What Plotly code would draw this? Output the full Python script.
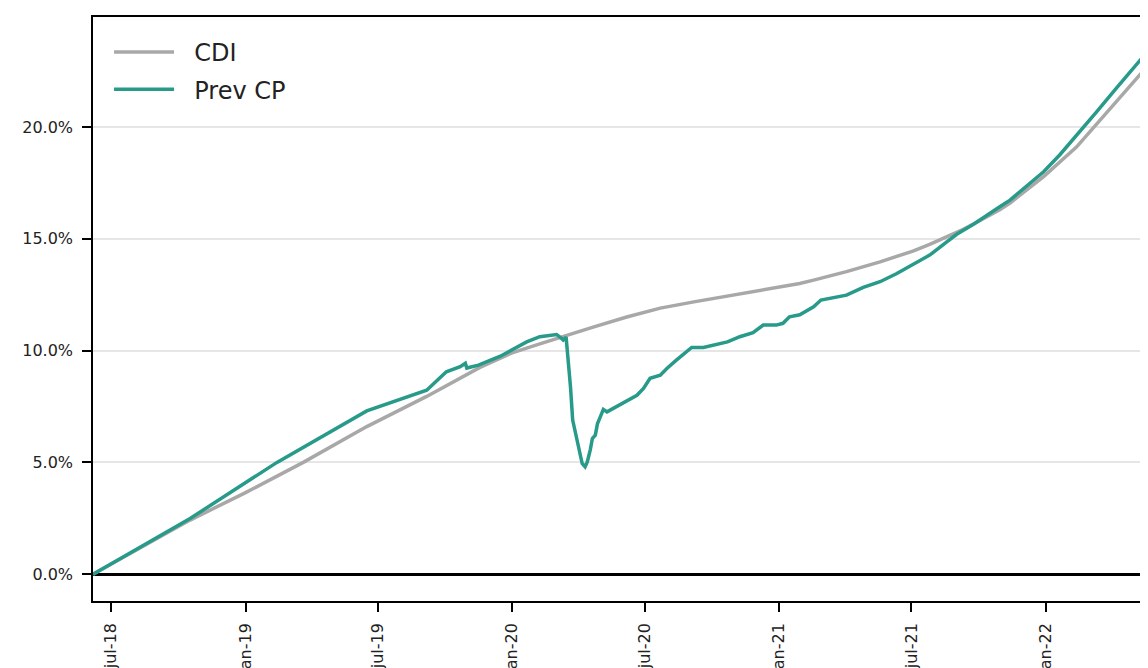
import plotly.graph_objects as go

# ---- data ----
cdi_dates = ["2018-06-06", "2018-10-17", "2019-01-01", "2019-03-21", "2019-06-16", "2019-09-06",
             "2019-11-18", "2020-01-01", "2020-02-08", "2020-03-16", "2020-04-21", "2020-06-06",
             "2020-07-22", "2020-09-06", "2020-10-22", "2020-12-07", "2021-01-29", "2021-02-17",
             "2021-04-03", "2021-05-19", "2021-07-03", "2021-07-26", "2021-08-18", "2021-09-10",
             "2021-10-03", "2021-10-30", "2021-11-13", "2021-12-29", "2022-02-12", "2022-03-11",
             "2022-04-02", "2022-04-25", "2022-05-21"]
cdi_values = [0.0, 2.42, 3.65, 5.0, 6.6, 7.95,
              9.25, 9.9, 10.3, 10.69, 11.05, 11.5,
              11.9, 12.18, 12.44, 12.68, 13.0, 13.15,
              13.53, 13.97, 14.45, 14.75, 15.08, 15.42,
              15.82, 16.3, 16.6, 17.78, 19.1, 20.1,
              20.95, 21.78, 22.75]

cp_dates = ["2018-06-06", "2018-10-17", "2019-02-13", "2019-06-16", "2019-09-06", "2019-10-03",
            "2019-10-22", "2019-10-29", "2019-10-31", "2019-11-16", "2019-12-16", "2020-01-21",
            "2020-02-08", "2020-03-02", "2020-03-09", "2020-03-11", "2020-03-15", "2020-03-18",
            "2020-03-21", "2020-03-24", "2020-03-27", "2020-04-01", "2020-04-04", "2020-04-06",
            "2020-04-10", "2020-04-13", "2020-04-17", "2020-04-20", "2020-04-24", "2020-04-27",
            "2020-04-30", "2020-05-05", "2020-05-10", "2020-05-16", "2020-05-25", "2020-06-08",
            "2020-06-20", "2020-06-29", "2020-07-08", "2020-07-22", "2020-07-31", "2020-08-13",
            "2020-08-22", "2020-09-03", "2020-09-19", "2020-10-03", "2020-10-22", "2020-11-08",
            "2020-11-26", "2020-12-10", "2020-12-28", "2021-01-06", "2021-01-15", "2021-01-29",
            "2021-02-17", "2021-02-27", "2021-03-11", "2021-04-03", "2021-04-26", "2021-05-19",
            "2021-06-11", "2021-07-03", "2021-07-26", "2021-08-18", "2021-09-01", "2021-09-24",
            "2021-10-12", "2021-10-30", "2021-11-13", "2021-12-29", "2022-01-20", "2022-02-12",
            "2022-02-26", "2022-03-11", "2022-04-08", "2022-05-01", "2022-05-21"]
cp_values = [0.0, 2.49, 5.0, 7.3, 8.23, 9.05,
             9.28, 9.43, 9.22, 9.35, 9.75, 10.39,
             10.62, 10.72, 10.54, 10.47, 10.6, 9.57,
             8.38, 6.89, 6.44, 5.7, 5.4, 4.95,
             4.8, 5.02, 5.55, 6.07, 6.22, 6.74,
             6.97, 7.37, 7.26, 7.37, 7.56, 7.81,
             8.0, 8.31, 8.76, 8.9, 9.2, 9.57,
             9.8, 10.14, 10.14, 10.25, 10.39, 10.62,
             10.8, 11.14, 11.14, 11.22, 11.51, 11.6,
             11.96, 12.26, 12.34, 12.48, 12.83, 13.08,
             13.45, 13.83, 14.27, 14.85, 15.2, 15.65,
             16.06, 16.43, 16.73, 18.0, 18.75, 19.6,
             20.15, 20.65, 21.75, 22.65, 23.4]

x_tick_dates = ["2018-07-01", "2019-01-01", "2019-07-01", "2020-01-01", "2020-07-01",
                "2021-01-01", "2021-07-01", "2022-01-01"]
x_tick_labels = ["jul-18", "jan-19", "jul-19", "jan-20", "jul-20", "jan-21", "jul-21", "jan-22"]
y_tick_values = [0, 5, 10, 15, 20]
y_tick_labels = ["0.0%", "5.0%", "10.0%", "15.0%", "20.0%"]

FONT = "DejaVu Sans"
GRAY = "#a8a8a8"
TEAL = "#279a89"
NB = "\u00a0\u00a0"

fig = go.Figure()
fig.add_trace(go.Scatter(x=cdi_dates, y=cdi_values, mode="lines", name=NB + "CDI",
                         legendgroup="a", line=dict(color=GRAY, width=3.5)))
fig.add_trace(go.Scatter(x=cp_dates, y=cp_values, mode="lines", name=NB + "Prev CP",
                         legendgroup="b", line=dict(color=TEAL, width=3.5)))

fig.update_layout(
    width=1148, height=668,
    margin=dict(l=85, r=8, t=9, b=75),
    paper_bgcolor="white", plot_bgcolor="white",
    font=dict(family=FONT, color="#222222", size=16),
    showlegend=True,
    legend=dict(x=0.0152, y=0.978, xanchor="left", yanchor="top",
                bgcolor="rgba(0,0,0,0)", borderwidth=0,
                font=dict(family=FONT, size=24, color="#222222"),
                itemwidth=60, traceorder="grouped", tracegroupgap=3),
)
fig.update_xaxes(
    type="date", range=["2018-06-06", "2022-05-21"],
    tickmode="array", tickvals=x_tick_dates, ticktext=x_tick_labels,
    tickangle=-90, ticks="outside", ticklen=9, tickwidth=1.5, tickcolor="black",
    ticklabelstandoff=5,
    showline=True, linecolor="black", linewidth=1.5, mirror=True,
    showgrid=False, zeroline=False, automargin=False,
    tickfont=dict(family=FONT, size=16, color="#222222"),
)
fig.update_yaxes(
    range=[-1.2, 24.92],
    tickmode="array", tickvals=y_tick_values, ticktext=y_tick_labels,
    ticks="outside", ticklen=9, tickwidth=1.5, tickcolor="black",
    ticklabelstandoff=6,
    showline=True, linecolor="black", linewidth=1.5,
    showgrid=True, gridcolor="#e6e6e6", gridwidth=1.5,
    zeroline=True, zerolinecolor="black", zerolinewidth=3,
    automargin=False,
    tickfont=dict(family=FONT, size=16, color="#222222"),
)

fig.write_html("out.html")
